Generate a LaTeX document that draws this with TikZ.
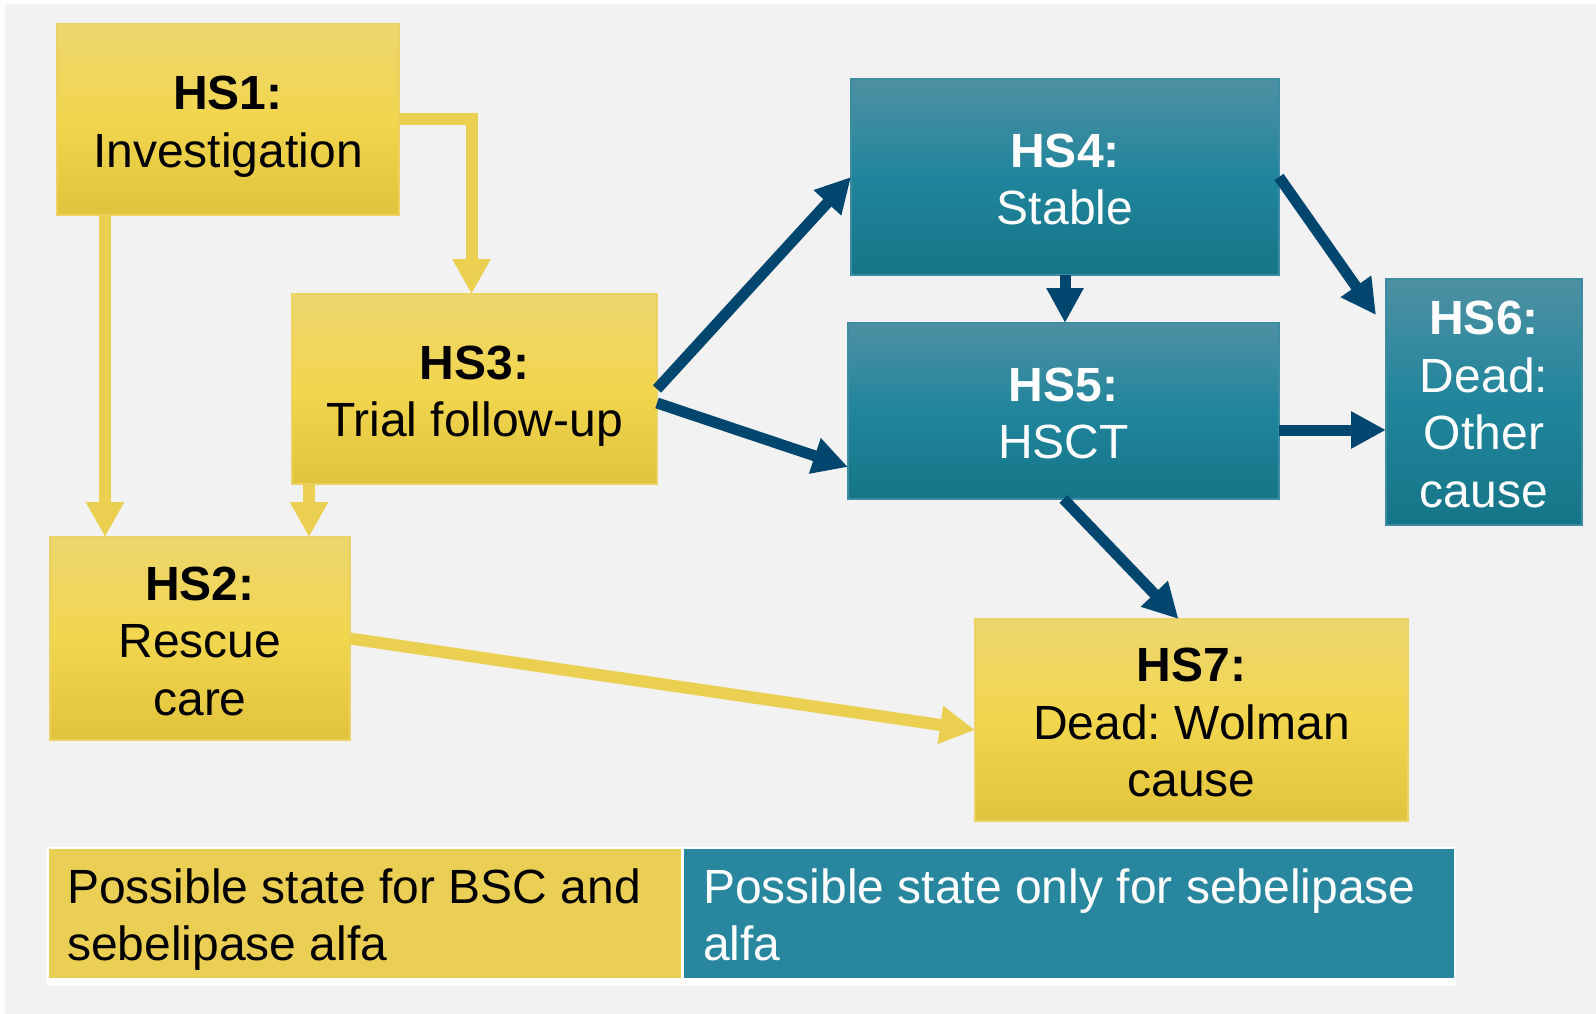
\documentclass[tikz,border=0pt]{standalone}
\usepackage{fontspec}
\setmainfont{Liberation Sans}
\usetikzlibrary{arrows.meta}
\frenchspacing
\definecolor{bgc}{HTML}{F2F2F2}
\definecolor{ytop}{HTML}{EDD66E}
\definecolor{ymid}{HTML}{F2D64E}
\definecolor{ybot}{HTML}{E1C23C}
\definecolor{ybord}{HTML}{EBD262}
\definecolor{ttop}{HTML}{4E90A3}
\definecolor{tmid}{HTML}{20859C}
\definecolor{tbot}{HTML}{167588}
\definecolor{tbord}{HTML}{3E8CA2}
\definecolor{yarrc}{HTML}{EACF50}
\definecolor{darrc}{HTML}{01466F}
\definecolor{legy}{HTML}{EBCF55}
\definecolor{legt}{HTML}{28869F}
\newcommand\Tst{\rule{0pt}{48pt}}
\newcommand\Lst{\rule{0pt}{43pt}}
\newcommand\Bst{\rule[-10pt]{0pt}{10pt}}
\begin{document}
\begin{tikzpicture}[x=1pt,y=-1pt,
  boxfont/.style={font=\fontsize{48}{57.5}\selectfont\frenchspacing},
  ybox/.style={draw=ybord, line width=1.2pt, top color=ytop, bottom color=ybot, middle color=ymid,
    inner sep=0pt, outer sep=0pt, align=center, boxfont, text=black},
  tbox/.style={draw=tbord, line width=1.2pt, top color=ttop, bottom color=tbot, middle color=tmid,
    inner sep=0pt, outer sep=0pt, align=center, boxfont, text=white},
  yarr/.style={draw=yarrc, line width=12pt, -{Triangle[width=36pt,length=35pt]}},
  darr/.style={draw=darrc, line width=11pt, -{Triangle[width=35pt,length=35pt]}},
  legcell/.style={inner sep=0pt, outer sep=0pt, anchor=north west},
  legtext/.style={inner sep=0pt, anchor=north west, align=left, boxfont}
]
\useasboundingbox (0,0) rectangle (1596,1014);
\fill[white] (0,0) rectangle (1596,1014);
\fill[bgc] (5,4) rectangle (1596,1014);

% boxes
\node[ybox, minimum width=342pt, minimum height=191pt] (hs1) at (228,119.5) {\Tst\textbf{HS1:}\\Investigation\Bst};
\node[ybox, minimum width=365pt, minimum height=190pt] (hs3) at (474.5,389) {\Tst\textbf{HS3:}\\Trial follow-up\Bst};
\node[ybox, minimum width=300pt, minimum height=203pt] (hs2) at (200,638.5) {\Tst\textbf{HS2:}\\Rescue\\care\Bst};
\node[tbox, minimum width=428pt, minimum height=196pt] (hs4) at (1065,177) {\Tst\textbf{HS4:}\\Stable\Bst};
\node[tbox, minimum width=431pt, minimum height=176pt] (hs5) at (1063.5,411) {\Tst\textbf{HS5:}\\HSCT\Bst};
\node[tbox, minimum width=196pt, minimum height=246pt] (hs6) at (1484,402) {\Tst\textbf{HS6:}\\Dead:\\Other\\cause\Bst};
\node[ybox, minimum width=433pt, minimum height=202pt] (hs7) at (1191.5,720) {\Tst\textbf{HS7:}\\Dead: Wolman\\cause\Bst};

% yellow connectors
\draw[yarr] (hs1.east) -| ([xshift=-3pt]hs3.north);
\draw[yarr] ([xshift=48pt]hs1.south west) -- ([xshift=48pt]hs1.south west |- hs2.north);
\draw[yarr] ([xshift=17pt]hs3.south west) -- ([xshift=17pt]hs3.south west |- hs2.north);
\draw[yarr] (hs2.east) -- ([yshift=-10pt]hs7.west);

% dark connectors
\draw[darr] (hs3.east) -- (hs4.west);
\draw[darr] ([yshift=-14pt]hs3.east) -- ([yshift=-56pt]hs5.west);
\draw[darr] (hs4.south) -- (hs4.south |- hs5.north);
\draw[darr] (hs4.east) -- ([xshift=-10pt,yshift=-36pt]hs6.north west);
\draw[darr] ([yshift=-19pt]hs5.east) -- ([yshift=-19pt]hs5.east -| hs6.west);
\draw[darr] (hs5.south) -- ([xshift=-13pt]hs7.north);

% legend
\node[legcell, fill=white, minimum width=1409pt, minimum height=139pt] (legframe) at (47,847) {};
\node[legcell, fill=legy, minimum width=632pt, minimum height=129pt] (lega) at (49,849) {};
\node[legcell, fill=legt, minimum width=770pt, minimum height=129pt] (legb) at (684,849) {};
\node[legtext, text=black] (legatext) at (67,860) {\Lst Possible state for BSC and\\sebelipase alfa};
\node[legtext, text=white] (legbtext) at (703,860) {\Lst Possible state only for sebelipase\\alfa};
\end{tikzpicture}
\end{document}
